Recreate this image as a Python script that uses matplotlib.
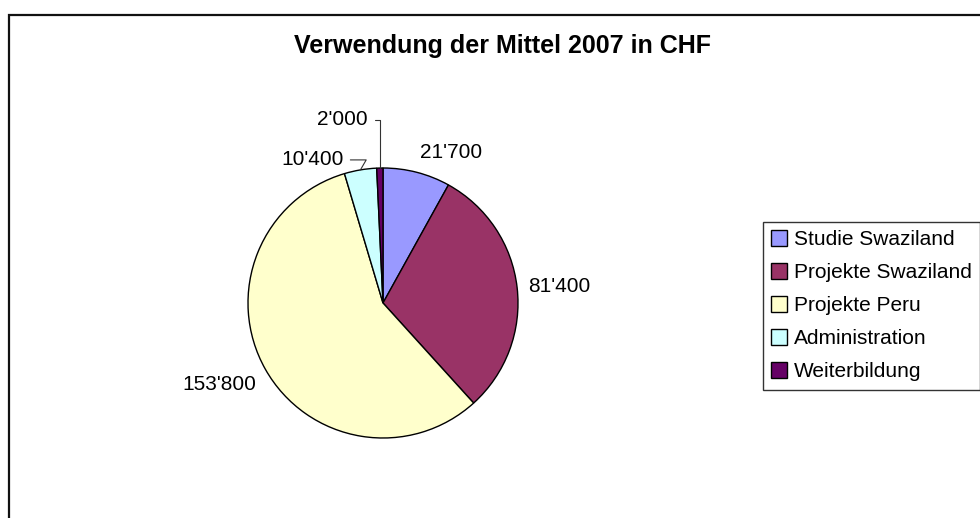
import numpy as np
import matplotlib.pyplot as plt
from matplotlib.patches import Rectangle

plt.rcParams['font.family'] = ['Liberation Sans', 'DejaVu Sans']

# data
categories = ["Studie Swaziland", "Projekte Swaziland", "Projekte Peru",
              "Administration", "Weiterbildung"]
values = [21700, 81400, 153800, 10400, 2000]
value_labels = ["21'700", "81'400", "153'800", "10'400", "2'000"]
colors = ["#9999FF", "#993366", "#FFFFCC", "#CCFFFF", "#660066"]

# small slices get a leader line; offset of label end from the slice edge (radius units)
leader_offsets = {3: (-0.126, 0.074), 4: (-0.09, 0.356)}

W, H = 980, 518
fig = plt.figure(figsize=(W / 100, H / 100), dpi=100)

# outer chart frame (cut off on right and bottom like the reference)
fig.patches.append(Rectangle((9 / W, -0.5), 2.0, 1 - 15 / H + 0.5,
                             transform=fig.transFigure, fill=False,
                             edgecolor="#111111", lw=1.6))

# pie axes: centre (383, 303) px, radius 135 px
cx, cy, r = 383, 303, 135
ax = fig.add_axes([(cx - r) / W, (H - cy - r) / H, 2 * r / W, 2 * r / H])

wedges, _ = ax.pie(values, colors=colors, startangle=90, counterclock=False,
                   radius=1, wedgeprops=dict(edgecolor="black", linewidth=1.0))
ax.set_xlim(-1, 1)
ax.set_ylim(-1, 1)
ax.set_aspect("equal")
ax.axis("off")

for i, w in enumerate(wedges):
    mid = np.deg2rad((w.theta1 + w.theta2) / 2)
    c, s = np.cos(mid), np.sin(mid)
    if i in leader_offsets:
        ox, oy = leader_offsets[i]
        ax.annotate(value_labels[i], xy=(c, s), xytext=(c + ox, s + oy),
                    ha="right", va="center", fontsize=15,
                    arrowprops=dict(arrowstyle="-", color="#333333", lw=0.8,
                                    shrinkA=3, shrinkB=0,
                                    connectionstyle="angle,angleA=0,angleB=%d"
                                    % (90 if i == 4 else 60)),
                    annotation_clip=False)
    else:
        ha = "left" if c > 0 else "right"
        va = "bottom" if s > 0.5 else ("top" if s < -0.3 else "center")
        ax.text(1.08 * c, 1.08 * s, value_labels[i], ha=ha, va=va, fontsize=15)

fig.text(502 / W, 1 - 46 / H, "Verwendung der Mittel 2007 in CHF",
         ha="center", va="center", fontsize=18, fontweight="bold")

leg = fig.legend(wedges, categories, loc="upper left",
                 bbox_to_anchor=(763 / W, 1 - 222 / H), fontsize=15,
                 frameon=True, fancybox=False, handlelength=0.75,
                 handleheight=0.75, handletextpad=0.33, labelspacing=0.67,
                 borderpad=0.4, borderaxespad=0)
leg.get_frame().set_edgecolor("black")
leg.get_frame().set_linewidth(1.0)

fig.savefig("out.png", dpi=100)
